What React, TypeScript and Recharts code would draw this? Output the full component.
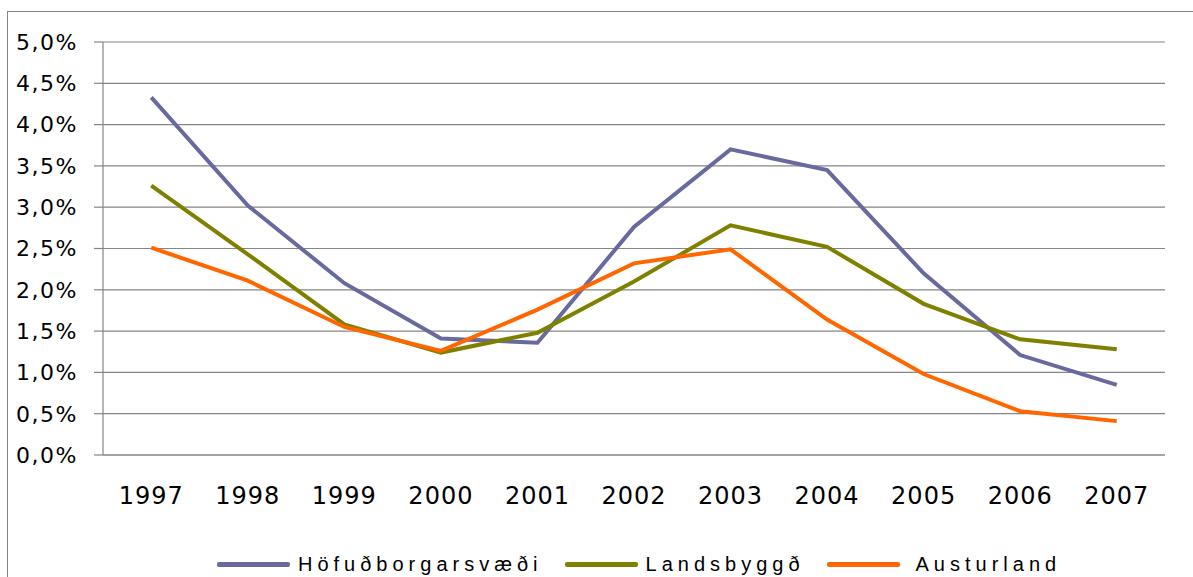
import { LineChart, Line, XAxis, YAxis, CartesianGrid } from "recharts";

const years = ["1997", "1998", "1999", "2000", "2001", "2002", "2003", "2004", "2005", "2006", "2007"];
const hofudborgarsvaedi = [4.33, 3.02, 2.08, 1.41, 1.36, 2.76, 3.7, 3.45, 2.2, 1.21, 0.85];
const landsbyggd = [3.26, 2.43, 1.58, 1.24, 1.48, 2.1, 2.78, 2.52, 1.83, 1.4, 1.28];
const austurland = [2.51, 2.11, 1.55, 1.26, 1.76, 2.32, 2.49, 1.64, 0.98, 0.53, 0.41];
const yTicks = [0, 0.5, 1, 1.5, 2, 2.5, 3, 3.5, 4, 4.5, 5];

const series = [
	{ key: "hofud", name: "Höfuðborgarsvæði", color: "#686a9e", values: hofudborgarsvaedi },
	{ key: "lands", name: "Landsbyggð", color: "#808000", values: landsbyggd },
	{ key: "aust", name: "Austurland", color: "#ff6600", values: austurland },
];

const data = years.map((year, i) => {
	const row: Record<string, number | string> = { x: i, year };
	series.forEach((s) => {
		row[s.key] = s.values[i];
	});
	return row;
});

// tick marks sit between the categories, like the spreadsheet chart
const boundaries = years.map((_, i) => i - 0.5).concat(years.length - 0.5);
const labelTicks = years.map((_, i) => i);

const gray = "#868686";

const App = () => {
	return (
		<div
			style={{
				position: "fixed",
				left: 0,
				top: 0,
				width: 1193,
				height: 577,
				overflow: "hidden",
				background: "#fff",
			}}
		>
			<div style={{ position: "absolute", left: 0, top: 0 }}>
				<LineChart
					width={1193}
					height={577}
					data={data}
					margin={{ top: 42, right: 28, bottom: 72, left: 13 }}
				>
					<CartesianGrid vertical={false} stroke={gray} strokeWidth={1.2} />
					<XAxis
						xAxisId="a"
						dataKey="x"
						type="number"
						domain={[-0.5, years.length - 0.5]}
						ticks={boundaries}
						tick={false}
						tickLine={{ stroke: gray, strokeWidth: 1.2 }}
						tickSize={9}
						height={10}
						stroke={gray}
						strokeWidth={1.2}
					/>
					<XAxis
						xAxisId="b"
						dataKey="x"
						type="number"
						domain={[-0.5, years.length - 0.5]}
						ticks={labelTicks}
						tickFormatter={(i: number) => years[i]}
						axisLine={false}
						tickLine={false}
						tickSize={0}
						tickMargin={22}
						height={40}
						tick={{
							fill: "#000",
							fontFamily: "DejaVu Sans",
							fontSize: 24,
							letterSpacing: 1,
						}}
					/>
					<YAxis
						domain={[0, 5]}
						ticks={yTicks}
						width={90}
						tickSize={9}
						tickMargin={16}
						stroke={gray}
						strokeWidth={1.2}
						tickFormatter={(v: number) => v.toFixed(1).replace(".", ",") + "%"}
						tick={{
							fill: "#000",
							fontFamily: "DejaVu Sans",
							fontSize: 22,
							letterSpacing: 1.5,
						}}
					/>
					{series.map((s) => (
						<Line
							key={s.key}
							xAxisId="a"
							dataKey={s.key}
							name={s.name}
							stroke={s.color}
							strokeWidth={4}
							dot={false}
							type="linear"
							isAnimationActive={false}
						/>
					))}
				</LineChart>
			</div>
			<div
				style={{
					position: "absolute",
					left: 217,
					top: 553,
					display: "flex",
					alignItems: "center",
					fontFamily: "Liberation Sans",
					fontSize: 20,
					letterSpacing: 5,
					color: "#000",
					whiteSpace: "nowrap",
				}}
			>
				{series.map((s, i) => (
					<div
						key={s.key}
						style={{ display: "flex", alignItems: "center", marginRight: 22 }}
					>
						<div
							style={{
								width: 73,
								height: 5,
								borderRadius: 2,
								background: s.color,
								marginRight: i === series.length - 1 ? 16 : 8,
							}}
						/>
						<span>{s.name}</span>
					</div>
				))}
			</div>
			<div
				style={{
					position: "absolute",
					left: 7,
					top: 11,
					width: 1300,
					height: 700,
					borderLeft: `1px solid ${gray}`,
					borderTop: `1px solid ${gray}`,
					pointerEvents: "none",
				}}
			/>
		</div>
	);
};

export default App;
